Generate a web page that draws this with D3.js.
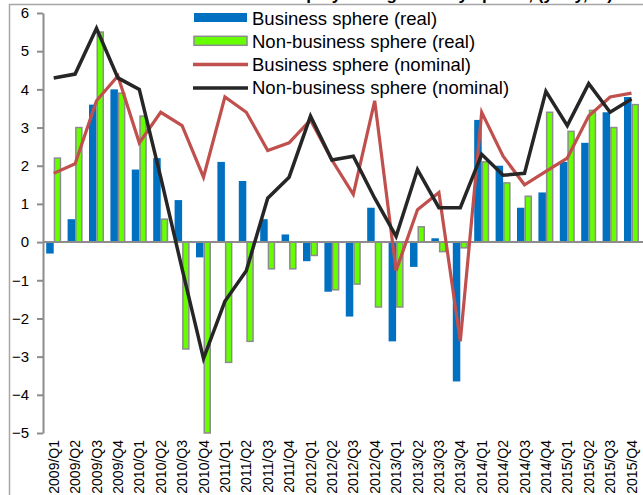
<!DOCTYPE html>
<html>
<head>
<meta charset="utf-8">
<script src="https://cdn.jsdelivr.net/npm/d3@7"></script>
<style>
  body { margin: 0; background: #fff; }
  svg { display: block; font-family: "Liberation Sans", Arial, sans-serif; }
</style>
</head>
<body>
<div id="chart"></div>
<script>
const quarters = ['2009/Q1','2009/Q2','2009/Q3','2009/Q4','2010/Q1','2010/Q2','2010/Q3','2010/Q4',
  '2011/Q1','2011/Q2','2011/Q3','2011/Q4','2012/Q1','2012/Q2','2012/Q3','2012/Q4',
  '2013/Q1','2013/Q2','2013/Q3','2013/Q4','2014/Q1','2014/Q2','2014/Q3','2014/Q4',
  '2015/Q1','2015/Q2','2015/Q3','2015/Q4'];

const businessReal = [-0.3, 0.6, 3.6, 4.0, 1.9, 2.2, 1.1, -0.4,
  2.1, 1.6, 0.6, 0.2, -0.5, -1.3, -1.95, 0.9,
  -2.6, -0.65, 0.1, -3.65, 3.2, 2.0, 0.9, 1.3,
  2.1, 2.6, 3.4, 3.8];
const nonBusinessReal = [2.2, 3.0, 5.5, 3.9, 3.3, 0.6, -2.8, -5.0,
  -3.15, -2.6, -0.7, -0.7, -0.35, -1.25, -1.1, -1.7,
  -1.7, 0.4, -0.25, -0.15, 2.1, 1.55, 1.2, 3.4,
  2.9, 3.45, 3.0, 3.6];
const businessNominal = [1.8, 2.05, 3.7, 4.35, 2.6, 3.4, 3.05, 1.7,
  3.8, 3.4, 2.4, 2.6, 3.2, 2.15, 1.25, 3.7,
  -0.75, 0.85, 1.3, -2.6, 3.4, 2.25, 1.5, 1.85,
  2.2, 3.3, 3.8, 3.9];
const nonBusinessNominal = [4.3, 4.4, 5.6, 4.3, 4.0, 1.7, -0.7, -3.05,
  -1.55, -0.75, 1.15, 1.7, 3.3, 2.15, 2.25, 1.15,
  0.15, 1.9, 0.9, 0.9, 2.3, 1.75, 1.8, 3.95,
  3.05, 4.15, 3.4, 3.75];
const yTicks = [-5, -4, -3, -2, -1, 0, 1, 2, 3, 4, 5, 6];

const legendItems = [
  {label: 'Business sphere (real)', kind: 'bar', fill: '#0070c0', stroke: 'none'},
  {label: 'Non-business sphere (real)', kind: 'bar', fill: '#66ff00', stroke: '#8c8c8c'},
  {label: 'Business sphere (nominal)', kind: 'line', stroke: '#c0504d'},
  {label: 'Non-business sphere (nominal)', kind: 'line', stroke: '#262626'}
];

const W = 643, H = 495;
const svg = d3.select('#chart').append('svg')
  .attr('width', W).attr('height', H);

// title, mostly cut off at the top
svg.append('text')
  .attr('x', 613).attr('y', 0)
  .attr('text-anchor', 'end')
  .style('font-size', '17px').style('font-weight', 'bold')
  .text('Employment growth by sphere, (y-o-y, %)');

// outer frame
svg.append('path')
  .attr('d', 'M9.5,' + H + 'V4.5H' + W)
  .attr('fill', 'none').attr('stroke', '#a6a6a6').attr('stroke-width', 1.5);

const x = d3.scaleBand().domain(quarters).range([43, 43 + 21.4 * quarters.length]);
const y = d3.scaleLinear().domain([-5, 6]).range([433, 13]);
const bw = 7.5;

// blue bars
svg.append('g').selectAll('rect')
  .data(businessReal)
  .enter().append('rect')
    .attr('x', (d, i) => x(quarters[i]) + x.bandwidth() / 2 - bw)
    .attr('y', d => y(Math.max(0, d)))
    .attr('width', bw)
    .attr('height', d => Math.abs(y(d) - y(0)))
    .attr('fill', '#0070c0');

// green bars
svg.append('g').selectAll('rect')
  .data(nonBusinessReal)
  .enter().append('rect')
    .attr('x', (d, i) => x(quarters[i]) + x.bandwidth() / 2 + 0.75)
    .attr('y', d => y(Math.max(0, d)))
    .attr('width', bw - 1.5)
    .attr('height', d => Math.abs(y(d) - y(0)))
    .attr('fill', '#66ff00')
    .attr('stroke', '#8c8c8c')
    .attr('stroke-width', 1.5);

// zero line
svg.append('line')
  .attr('x1', 43).attr('x2', W)
  .attr('y1', y(0)).attr('y2', y(0))
  .attr('stroke', '#8c8c8c').attr('stroke-width', 2);

// lines
const line = d3.line()
  .x((d, i) => x(quarters[i]) + x.bandwidth() / 2)
  .y(d => y(d));

svg.append('path').datum(businessNominal)
  .attr('d', line)
  .attr('fill', 'none').attr('stroke', '#c0504d').attr('stroke-width', 3.2)
  .attr('stroke-linejoin', 'miter');

svg.append('path').datum(nonBusinessNominal)
  .attr('d', line)
  .attr('fill', 'none').attr('stroke', '#262626').attr('stroke-width', 3.5)
  .attr('stroke-linejoin', 'miter');

// y axis
const yAxis = svg.append('g')
  .attr('transform', 'translate(43,0)')
  .call(d3.axisLeft(y).tickValues(yTicks).tickSize(6).tickPadding(8).tickSizeOuter(0));
yAxis.select('.domain').attr('stroke', '#8c8c8c').attr('stroke-width', 2);
yAxis.selectAll('.tick line').attr('stroke', '#8c8c8c').attr('stroke-width', 2);
yAxis.selectAll('.tick text')
  .style('font-size', '15px').style('font-family', '"Liberation Sans", Arial, sans-serif')
  .attr('fill', '#000');

// x labels, rotated
svg.append('g').selectAll('text')
  .data(quarters)
  .enter().append('text')
    .attr('transform', d => 'translate(' + (x(d) + x.bandwidth() / 2 + 5) + ',440) rotate(-90)')
    .attr('text-anchor', 'end')
    .style('font-size', '14px')
    .text(d => d);

// legend
const legend = svg.append('g');
legendItems.forEach((item, i) => {
  const ly = 18 + i * 23.3;
  if (item.kind === 'bar') {
    legend.append('rect')
      .attr('x', 194).attr('y', ly - 5)
      .attr('width', 53).attr('height', 9)
      .attr('fill', item.fill)
      .attr('stroke', item.stroke)
      .attr('stroke-width', 1.5);
  } else {
    legend.append('line')
      .attr('x1', 193).attr('x2', 248)
      .attr('y1', ly).attr('y2', ly)
      .attr('stroke', item.stroke).attr('stroke-width', 3.5);
  }
  legend.append('text')
    .attr('x', 252).attr('y', ly + 6.5)
    .style('font-size', '18.5px')
    .text(item.label);
});
</script>
</body>
</html>
